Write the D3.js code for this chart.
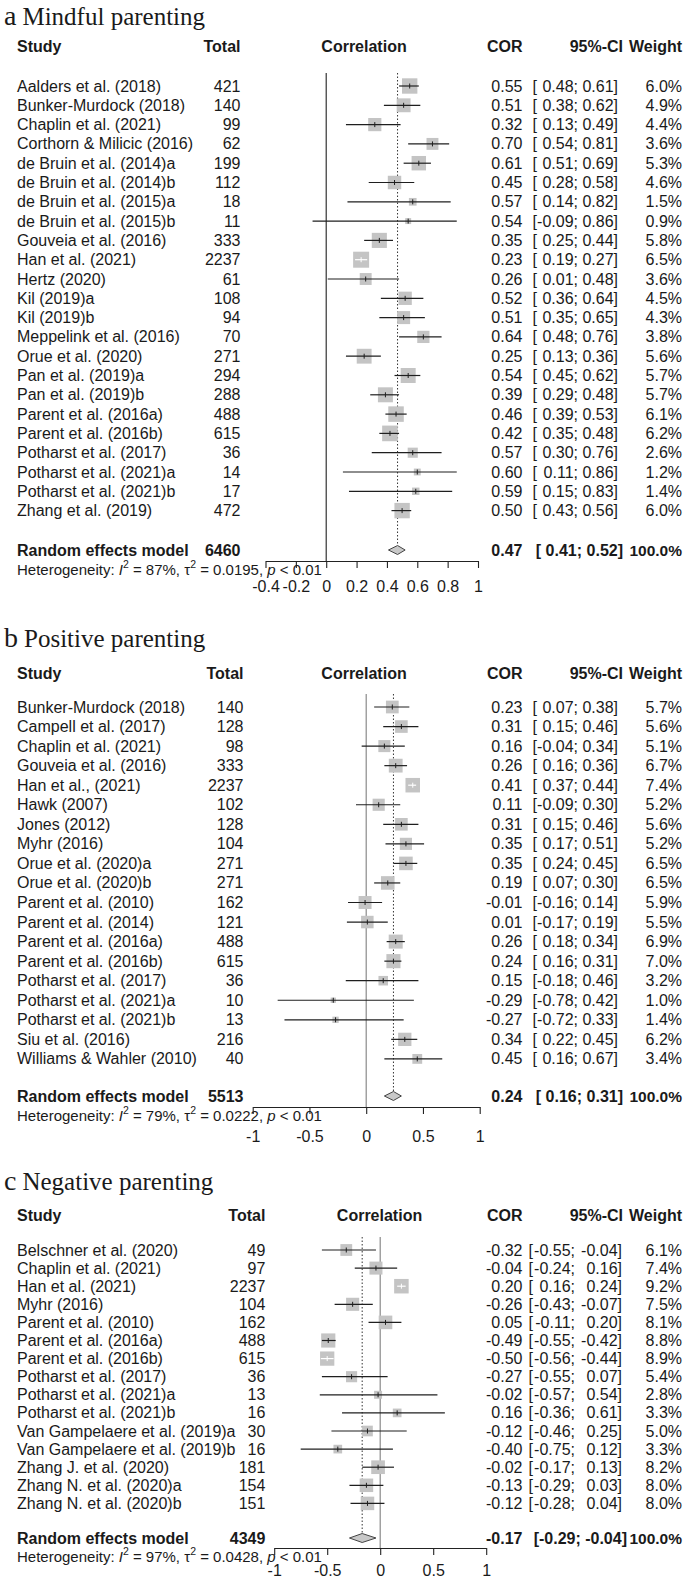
<!DOCTYPE html>
<html>
<head>
<meta charset="utf-8">
<script src="https://cdn.jsdelivr.net/npm/d3@7"></script>
<style>
  html, body { margin: 0; padding: 0; background: #fff; }
  svg { display: block; }
  text { fill: #1a1a1a; }
</style>
</head>
<body>
<svg id="chart" width="685" height="1580"></svg>
<script>
// ---------------- DATA ----------------
// Panel a: Mindful parenting
const studiesA = ["Aalders et al. (2018)", "Bunker-Murdock (2018)", "Chaplin et al. (2021)", "Corthorn & Milicic (2016)",
  "de Bruin et al. (2014)a", "de Bruin et al. (2014)b", "de Bruin et al. (2015)a", "de Bruin et al. (2015)b",
  "Gouveia et al. (2016)", "Han et al. (2021)", "Hertz (2020)", "Kil (2019)a", "Kil (2019)b",
  "Meppelink et al. (2016)", "Orue et al. (2020)", "Pan et al. (2019)a", "Pan et al. (2019)b",
  "Parent et al. (2016a)", "Parent et al. (2016b)", "Potharst et al. (2017)", "Potharst et al. (2021)a",
  "Potharst et al. (2021)b", "Zhang et al. (2019)"];
const totalA = [421, 140, 99, 62, 199, 112, 18, 11, 333, 2237, 61, 108, 94, 70, 271, 294, 288, 488, 615, 36, 14, 17, 472];
const corA = [0.55, 0.51, 0.32, 0.70, 0.61, 0.45, 0.57, 0.54, 0.35, 0.23, 0.26, 0.52, 0.51, 0.64, 0.25, 0.54, 0.39, 0.46, 0.42, 0.57, 0.60, 0.59, 0.50];
const lowerA = [0.48, 0.38, 0.13, 0.54, 0.51, 0.28, 0.14, -0.09, 0.25, 0.19, 0.01, 0.36, 0.35, 0.48, 0.13, 0.45, 0.29, 0.39, 0.35, 0.30, 0.11, 0.15, 0.43];
const upperA = [0.61, 0.62, 0.49, 0.81, 0.69, 0.58, 0.82, 0.86, 0.44, 0.27, 0.48, 0.64, 0.65, 0.76, 0.36, 0.62, 0.48, 0.53, 0.48, 0.76, 0.86, 0.83, 0.56];
const weightA = [6.0, 4.9, 4.4, 3.6, 5.3, 4.6, 1.5, 0.9, 5.8, 6.5, 3.6, 4.5, 4.3, 3.8, 5.6, 5.7, 5.7, 6.1, 6.2, 2.6, 1.2, 1.4, 6.0];
const pooledA = [0.47, 0.41, 0.52];          // COR, lower, upper
const pooledTotalA = 6460;
const hetA = ["87%", "0.0195", "< 0.01"];     // I2, tau2, p
const ticksA = [-0.4, -0.2, 0, 0.2, 0.4, 0.6, 0.8, 1];
const tickLabelsA = ["-0.4", "-0.2", "0", "0.2", "0.4", "0.6", "0.8", "1"];

// Panel b: Positive parenting
const studiesB = ["Bunker-Murdock (2018)", "Campell et al. (2017)", "Chaplin et al. (2021)", "Gouveia et al. (2016)",
  "Han et al., (2021)", "Hawk (2007)", "Jones (2012)", "Myhr (2016)", "Orue et al. (2020)a", "Orue et al. (2020)b",
  "Parent et al. (2010)", "Parent et al. (2014)", "Parent et al. (2016a)", "Parent et al. (2016b)",
  "Potharst et al. (2017)", "Potharst et al. (2021)a", "Potharst et al. (2021)b", "Siu et al. (2016)",
  "Williams & Wahler (2010)"];
const totalB = [140, 128, 98, 333, 2237, 102, 128, 104, 271, 271, 162, 121, 488, 615, 36, 10, 13, 216, 40];
const corB = [0.23, 0.31, 0.16, 0.26, 0.41, 0.11, 0.31, 0.35, 0.35, 0.19, -0.01, 0.01, 0.26, 0.24, 0.15, -0.29, -0.27, 0.34, 0.45];
const lowerB = [0.07, 0.15, -0.04, 0.16, 0.37, -0.09, 0.15, 0.17, 0.24, 0.07, -0.16, -0.17, 0.18, 0.16, -0.18, -0.78, -0.72, 0.22, 0.16];
const upperB = [0.38, 0.46, 0.34, 0.36, 0.44, 0.30, 0.46, 0.51, 0.45, 0.30, 0.14, 0.19, 0.34, 0.31, 0.46, 0.42, 0.33, 0.45, 0.67];
const weightB = [5.7, 5.6, 5.1, 6.7, 7.4, 5.2, 5.6, 5.2, 6.5, 6.5, 5.9, 5.5, 6.9, 7.0, 3.2, 1.0, 1.4, 6.2, 3.4];
const pooledB = [0.24, 0.16, 0.31];
const pooledTotalB = 5513;
const hetB = ["79%", "0.0222", "< 0.01"];
const ticksB = [-1, -0.5, 0, 0.5, 1];
const tickLabelsB = ["-1", "-0.5", "0", "0.5", "1"];

// Panel c: Negative parenting
const studiesC = ["Belschner et al. (2020)", "Chaplin et al. (2021)", "Han et al. (2021)", "Myhr (2016)",
  "Parent et al. (2010)", "Parent et al. (2016a)", "Parent et al. (2016b)", "Potharst et al. (2017)",
  "Potharst et al. (2021)a", "Potharst et al. (2021)b", "Van Gampelaere et al. (2019)a",
  "Van Gampelaere et al. (2019)b", "Zhang J. et al. (2020)", "Zhang N. et al. (2020)a", "Zhang N. et al. (2020)b"];
const totalC = [49, 97, 2237, 104, 162, 488, 615, 36, 13, 16, 30, 16, 181, 154, 151];
const corC = [-0.32, -0.04, 0.20, -0.26, 0.05, -0.49, -0.50, -0.27, -0.02, 0.16, -0.12, -0.40, -0.02, -0.13, -0.12];
const lowerC = [-0.55, -0.24, 0.16, -0.43, -0.11, -0.55, -0.56, -0.55, -0.57, -0.36, -0.46, -0.75, -0.17, -0.29, -0.28];
const upperC = [-0.04, 0.16, 0.24, -0.07, 0.20, -0.42, -0.44, 0.07, 0.54, 0.61, 0.25, 0.12, 0.13, 0.03, 0.04];
const weightC = [6.1, 7.4, 9.2, 7.5, 8.1, 8.8, 8.9, 5.4, 2.8, 3.3, 5.0, 3.3, 8.2, 8.0, 8.0];
const pooledC = [-0.17, -0.29, -0.04];
const pooledTotalC = 4349;
const hetC = ["97%", "0.0428", "< 0.01"];
const ticksC = [-1, -0.5, 0, 0.5, 1];
const tickLabelsC = ["-1", "-0.5", "0", "0.5", "1"];

// ---------------- LAYOUT ----------------
const panels = [
  { letter: "a", title: "Mindful parenting",
    studies: studiesA, total: totalA, cor: corA, lower: lowerA, upper: upperA, weight: weightA,
    pooled: pooledA, pooledTotal: pooledTotalA, het: hetA, ticks: ticksA, tickLabels: tickLabelsA,
    L: { titleY: 25, headerY: 46, row0: 86, step: 19.3, reY: 550, axisY: 561, hetY: 568.5, tickLabY: 587,
         xDom: [-0.4, 1], xRange: [265.5, 478], totalRight: 240.5, corrHeadX: 364,
         ciUpper: 618, ciLower: 578, ciBracket: 532.5, ciBold: 623, box: 16, zeroCol: "#333" } },
  { letter: "b", title: "Positive parenting",
    studies: studiesB, total: totalB, cor: corB, lower: lowerB, upper: upperB, weight: weightB,
    pooled: pooledB, pooledTotal: pooledTotalB, het: hetB, ticks: ticksB, tickLabels: tickLabelsB,
    L: { titleY: 647, headerY: 673, row0: 707, step: 19.55, reY: 1096, axisY: 1107, hetY: 1114.5, tickLabY: 1136.5,
         xDom: [-1, 1], xRange: [252.7, 479.7], totalRight: 243.5, corrHeadX: 364,
         ciUpper: 618, ciLower: 578, ciBracket: 532.5, ciBold: 623, box: 14.5, zeroCol: "#8a8a8a" } },
  { letter: "c", title: "Negative parenting",
    studies: studiesC, total: totalC, cor: corC, lower: lowerC, upper: upperC, weight: weightC,
    pooled: pooledC, pooledTotal: pooledTotalC, het: hetC, ticks: ticksC, tickLabels: tickLabelsC,
    L: { titleY: 1190, headerY: 1215, row0: 1250, step: 18.1, reY: 1538, axisY: 1548, hetY: 1555.5, tickLabY: 1570.5,
         xDom: [-1, 1], xRange: [274.2, 486.2], totalRight: 265.4, corrHeadX: 379.5,
         ciUpper: 622, ciLower: 575, ciBracket: 528.5, ciBold: 627, box: 14.5, zeroCol: "#8a8a8a" } }
];

const FONT = "'Liberation Sans', Arial, Helvetica, sans-serif";
const SERIF = "'Liberation Serif', 'Times New Roman', serif";
const FS = 16;
const corRight = 522.5, weightRight = 682, studyX = 17;
const fmt = v => v.toFixed(2);

const svg = d3.select("#chart");
svg.append("rect").attr("width", 685).attr("height", 1580).attr("fill", "#fff");

panels.forEach(p => {
  const L = p.L;
  const g = svg.append("g").attr("font-family", FONT).attr("font-size", FS);
  const x = d3.scaleLinear().domain(L.xDom).range(L.xRange);
  const y = i => L.row0 + i * L.step;
  const wmax = d3.max(p.weight);

  // Title
  const t = svg.append("text").attr("x", 4).attr("y", L.titleY).attr("font-family", SERIF);
  t.append("tspan").attr("font-size", 28).text(p.letter);
  t.append("tspan").attr("font-size", 25).attr("dx", 6).text(p.title);

  // Header
  const hdr = g.append("g").attr("font-weight", "bold");
  const htext = (tx, xx, anchor) => hdr.append("text").attr("x", xx).attr("y", L.headerY)
      .attr("dominant-baseline", "central").attr("text-anchor", anchor).text(tx);
  htext("Study", studyX, "start");
  htext("Total", L.totalRight, "end");
  htext("Correlation", L.corrHeadX, "middle");
  htext("COR", corRight, "end");
  htext("95%-CI", 623, "end");
  htext("Weight", weightRight, "end");

  // Reference lines
  const topY = L.row0 - 13;
  g.append("line").attr("x1", x(0)).attr("x2", x(0)).attr("y1", topY).attr("y2", L.axisY)
    .attr("stroke", L.zeroCol).attr("stroke-width", 1.2);
  g.append("line").attr("x1", x(p.pooled[0])).attr("x2", x(p.pooled[0]))
    .attr("y1", topY).attr("y2", L.reY - 4.5)
    .attr("stroke", "#333").attr("stroke-width", 1).attr("stroke-dasharray", "1.5,2");

  // Study rows
  p.studies.forEach((s, i) => {
    const yy = y(i);
    const row = g.append("g");
    row.append("text").attr("x", studyX).attr("y", yy).attr("dominant-baseline", "central").text(s);
    row.append("text").attr("x", L.totalRight).attr("y", yy).attr("dominant-baseline", "central")
      .attr("text-anchor", "end").text(p.total[i]);
    row.append("text").attr("x", corRight).attr("y", yy).attr("dominant-baseline", "central")
      .attr("text-anchor", "end").text(fmt(p.cor[i]));
    const lo = p.lower[i];
    row.append("text").attr("x", L.ciBracket).attr("y", yy)
      .attr("dominant-baseline", "central").text("[");
    row.append("text").attr("x", L.ciLower).attr("y", yy).attr("dominant-baseline", "central")
      .attr("text-anchor", "end").text(fmt(lo) + ";");
    row.append("text").attr("x", L.ciUpper).attr("y", yy).attr("dominant-baseline", "central")
      .attr("text-anchor", "end").text(fmt(p.upper[i]) + "]");
    row.append("text").attr("x", weightRight).attr("y", yy).attr("dominant-baseline", "central")
      .attr("text-anchor", "end").text(p.weight[i].toFixed(1) + "%");

    // box + CI
    const side = L.box * Math.sqrt(p.weight[i] / wmax);
    const cx = x(p.cor[i]);
    const inside = x(lo) >= cx - side / 2 && x(p.upper[i]) <= cx + side / 2;
    const lc = inside ? "#fff" : "#1f1f1f";
    row.append("rect").attr("x", cx - side / 2).attr("y", yy - side / 2)
      .attr("width", side).attr("height", side).attr("fill", "#c4c4c4");
    row.append("line").attr("x1", x(lo)).attr("x2", x(p.upper[i])).attr("y1", yy).attr("y2", yy)
      .attr("stroke", lc).attr("stroke-width", 1.2);
    row.append("line").attr("x1", cx).attr("x2", cx).attr("y1", yy - 2.5).attr("y2", yy + 2.5)
      .attr("stroke", lc).attr("stroke-width", 1);
  });

  // Random effects row
  const re = g.append("g").attr("font-weight", "bold");
  re.append("text").attr("x", studyX).attr("y", L.reY).attr("dominant-baseline", "central").text("Random effects model");
  re.append("text").attr("x", L.totalRight).attr("y", L.reY).attr("dominant-baseline", "central")
    .attr("text-anchor", "end").text(p.pooledTotal);
  re.append("text").attr("x", corRight).attr("y", L.reY).attr("dominant-baseline", "central")
    .attr("text-anchor", "end").text(fmt(p.pooled[0]));
  re.append("text").attr("x", L.ciBold).attr("y", L.reY).attr("dominant-baseline", "central")
    .attr("text-anchor", "end")
    .text("[" + (p.pooled[1] < 0 ? "" : " ") + fmt(p.pooled[1]) + "; " + fmt(p.pooled[2]) + "]");
  re.append("text").attr("x", weightRight).attr("y", L.reY).attr("dominant-baseline", "central")
    .attr("text-anchor", "end").attr("font-size", 15.5).text("100.0%");
  const h = 4.5;
  const dpts = [[x(p.pooled[1]), L.reY], [x(p.pooled[0]), L.reY - h], [x(p.pooled[2]), L.reY], [x(p.pooled[0]), L.reY + h]];
  g.append("polygon").attr("points", dpts.map(d => d.join(",")).join(" "))
    .attr("fill", "#c8c8c8").attr("stroke", "#444").attr("stroke-width", 1);

  // Heterogeneity
  const het = g.append("text").attr("x", studyX).attr("y", L.hetY).attr("font-size", 15)
    .attr("dominant-baseline", "central");
  het.append("tspan").text("Heterogeneity: ");
  het.append("tspan").attr("font-style", "italic").text("I");
  het.append("tspan").attr("font-size", 10.5).attr("dy", -5).text("2");
  het.append("tspan").attr("dy", 5).text(" = " + p.het[0] + ", \u03C4");
  het.append("tspan").attr("font-size", 10.5).attr("dy", -5).text("2");
  het.append("tspan").attr("dy", 5).text(" = " + p.het[1] + ", ");
  het.append("tspan").attr("font-style", "italic").text("p");
  het.append("tspan").text(" " + p.het[2]);

  // Axis
  const axis = d3.axisBottom(x).tickValues(p.ticks).tickSize(7).tickSizeOuter(0)
    .tickPadding(L.tickLabY - L.axisY - 7 - 6)
    .tickFormat((d, i) => p.tickLabels[i]);
  const ax = g.append("g").attr("transform", `translate(0,${L.axisY})`).call(axis);
  ax.select(".domain").attr("stroke", "#222").attr("stroke-width", 1.1);
  ax.selectAll(".tick line").attr("stroke", "#222").attr("stroke-width", 1.1);
  ax.selectAll(".tick text").attr("font-family", FONT).attr("font-size", FS).attr("fill", "#1a1a1a");
});
</script>
</body>
</html>
